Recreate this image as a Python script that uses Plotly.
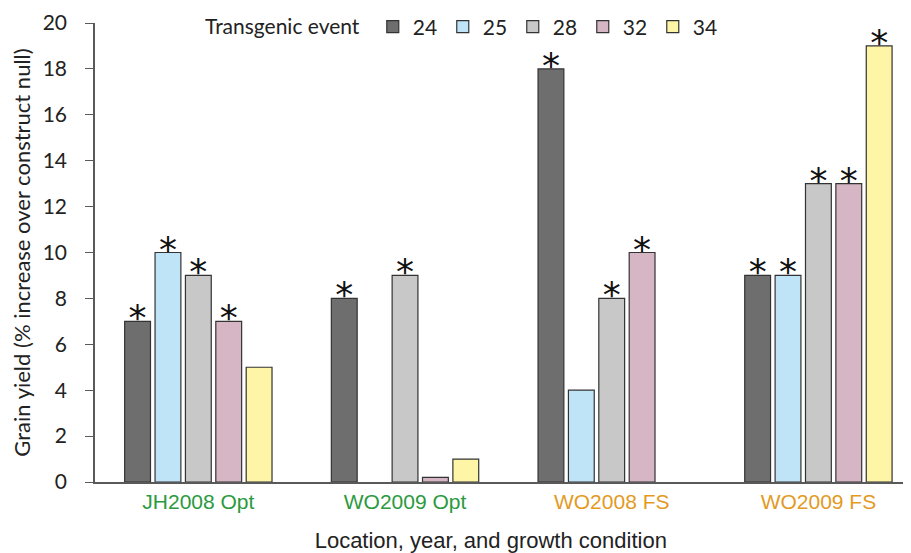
import plotly.graph_objects as go

categories = ["JH2008 Opt", "WO2009 Opt", "WO2008 FS", "WO2009 FS"]
cat_colors = ["#2a9a3e", "#2a9a3e", "#e39a1f", "#e39a1f"]
events = ["24", "25", "28", "32", "34"]
values = {
    "24": [7, 8, 18, 9],
    "25": [10, None, 4, 9],
    "28": [9, 9, 8, 13],
    "32": [7, 0.2, 10, 13],
    "34": [5, 1, None, 19],
}
significant = {
    "24": [1, 1, 1, 1],
    "25": [1, 0, 0, 1],
    "28": [1, 1, 1, 1],
    "32": [1, 0, 1, 1],
    "34": [0, 0, 0, 1],
}
colors = {"24": "#6e6e6e", "25": "#bfe4f8", "28": "#c8c8c8", "32": "#d6b6c4", "34": "#fff5a6"}

# the page body has an 8px default margin, so the figure is sized to fit the window
W, H = 903, 545

fig = go.Figure()
for e in events:
    fig.add_trace(go.Bar(
        name=e, x=categories, y=values[e],
        marker=dict(color=colors[e], line=dict(color="#333333", width=1.2)),
        offsetgroup=e,
    ))
for e in events:
    star_y = [v if (s and v is not None) else None for v, s in zip(values[e], significant[e])]
    fig.add_trace(go.Scatter(
        x=categories, y=star_y, mode="text", text=["*"] * len(categories),
        textposition="middle center", offsetgroup=e,
        textfont=dict(family="DejaVu Sans", size=36, color="#111111"),
        showlegend=False, cliponaxis=False, hoverinfo="skip",
    ))

fig.update_layout(
    width=W, height=H,
    margin=dict(l=87, r=0, t=15, b=71, autoexpand=False),
    paper_bgcolor="white", plot_bgcolor="white",
    barmode="group", bargap=0.265, bargroupgap=0.15,
    scattermode="group", scattergap=0.265,
    font=dict(family="Lato", size=18, color="#222"),
    legend=dict(
        orientation="h", xref="container", yref="container",
        x=0.216, xanchor="left", y=1 - 19 / H, yanchor="middle",
        title=dict(text="Transgenic event ", side="left", font=dict(size=21)),
        font=dict(size=21), entrywidth=25, bgcolor="rgba(0,0,0,0)",
        itemclick=False,
    ),
    xaxis=dict(
        type="category", range=[-0.5, 3.448],
        tickvals=categories,
        ticktext=[f'<span style="color:{c}">{t}</span>' for t, c in zip(categories, cat_colors)],
        tickfont=dict(family="Liberation Sans", size=21),
        showline=True, linecolor="#595959", linewidth=1.5, ticks="",
        title=dict(text="Location, year, and growth condition&nbsp;&nbsp;&nbsp;&nbsp;",
                   font=dict(family="Liberation Sans", size=22), standoff=23),
    ),
    yaxis=dict(
        range=[0, 20], dtick=2, showgrid=False, zeroline=False,
        showline=True, linecolor="#595959", linewidth=1.5,
        ticks="outside", ticklen=8, tickcolor="#595959", tickfont=dict(size=21),
        ticklabelstandoff=14,
        title=dict(text="Grain yield (% increase over construct null)", font=dict(size=22), standoff=16),
    ),
)

fig.write_html("out.html")
